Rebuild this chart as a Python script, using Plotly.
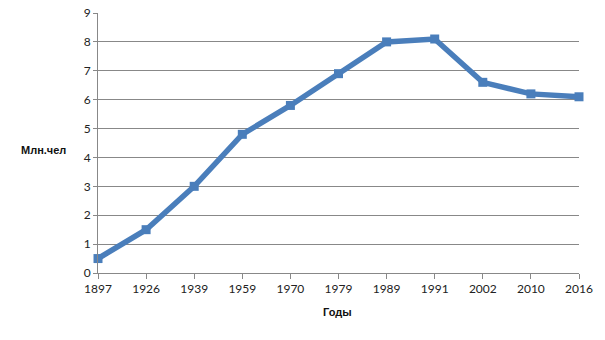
import plotly.graph_objects as go

years = ["1897", "1926", "1939", "1959", "1970", "1979", "1989", "1991", "2002", "2010", "2016"]
population = [0.5, 1.5, 3.0, 4.8, 5.8, 6.9, 8.0, 8.1, 6.6, 6.2, 6.1]
y_title = "Млн.чел"
x_title = "Годы"

fig = go.Figure()
fig.add_trace(go.Scatter(
    x=years, y=population, mode="lines+markers",
    line=dict(color="#4a7ebb", width=5.5),
    marker=dict(symbol="square", size=9, color="#4a7ebb"),
    cliponaxis=False, showlegend=False,
))

L, R, T, B = 98, 26, 13, 67
pw, ph = 605 - L - R, 340 - T - B


def px(x, y):
    return (x - L) / pw, (340 - B - y) / ph


ax1, ay1 = px(43, 150)
ax2, ay2 = px(337, 312)

fig.update_layout(
    width=605, height=340,
    margin=dict(l=L, r=R, t=T, b=B, autoexpand=False),
    paper_bgcolor="white", plot_bgcolor="white",
    font=dict(family="Lato, sans-serif", size=12, color="#222"),
    xaxis=dict(
        type="category", range=[0, 10], showgrid=False,
        showline=True, linecolor="#888", linewidth=1,
        ticks="outside", ticklen=5, tickcolor="#888",
        tickfont=dict(size=12), zeroline=False, automargin=False,
    ),
    yaxis=dict(
        range=[0, 9], dtick=1, showgrid=True, gridcolor="#888", gridwidth=1,
        showline=True, linecolor="#888", linewidth=1,
        ticks="outside", ticklen=4, tickcolor="#888",
        tickfont=dict(size=12), zeroline=False, automargin=False,
    ),
    annotations=[
        dict(text=f"<b>{y_title}</b>", x=ax1, y=ay1, xref="paper", yref="paper",
             xanchor="center", yanchor="middle", showarrow=False,
             font=dict(family="Liberation Sans, Arial", size=11, color="#111")),
        dict(text=f"<b>{x_title}</b>", x=ax2, y=ay2, xref="paper", yref="paper",
             xanchor="center", yanchor="middle", showarrow=False,
             font=dict(family="Liberation Sans, Arial", size=11, color="#111")),
    ],
)

fig.write_html("out.html")
